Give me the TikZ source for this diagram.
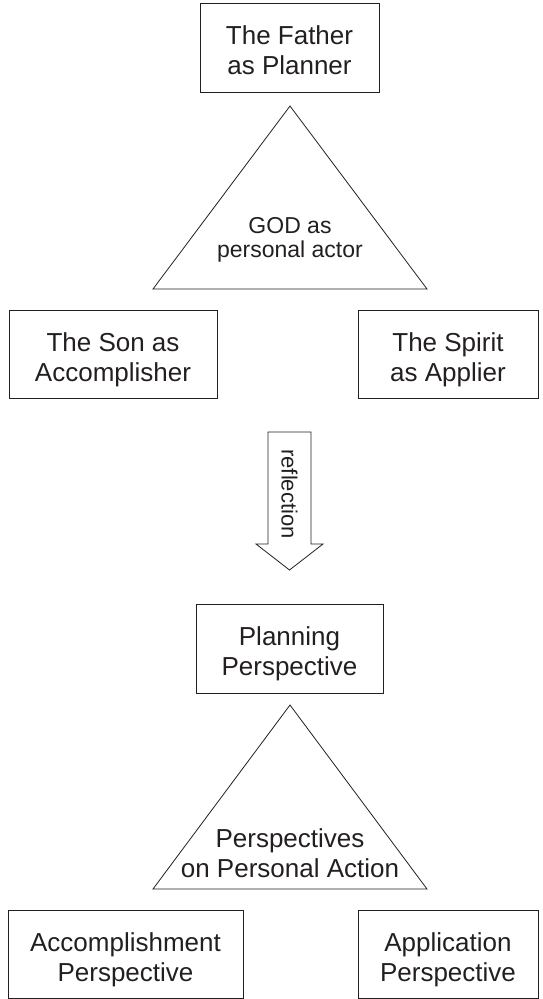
\documentclass[tikz,border=0pt]{standalone}
\usepackage{fontspec}
\setmainfont{Liberation Sans}
\definecolor{ink}{HTML}{231F20}
\begin{document}
\begin{tikzpicture}[x=1pt,y=-1pt,
  line width=0.8pt,
  box/.style={draw=ink, text=ink, line width=0.8pt, inner sep=0pt, align=center,
    text height=54pt, text depth=0pt,
    font=\fontsize{26}{30}\selectfont},
  shapeline/.style={draw=ink, line width=0.8pt, line join=miter},
  tritext/.style={text=ink, inner sep=0pt, align=center},
]
\useasboundingbox (0,0) rectangle (543,999);

% top group
\node[box, minimum width=179pt, minimum height=89pt] (father) at (289.5,47.5) {The Father\\as Planner};
\coordinate (t1a) at (290,106);
\coordinate (t1l) at (153,289);
\coordinate (t1r) at (427,289);
\draw[shapeline] (t1a) -- (t1r) -- (t1l) -- cycle;
\node[tritext, font=\fontsize{23}{24}\selectfont] (god) at (290,240) {GOD as\\personal actor};
\node[box, minimum width=208pt, minimum height=88pt] (son) at (113,354) {The Son as\\Accomplisher};
\node[box, minimum width=180pt, minimum height=88pt] (spirit) at (448,354) {The Spirit\\as Applier};

% reflection arrow
\coordinate (a1) at (268,432);
\coordinate (a2) at (311,432);
\coordinate (a3) at (311,544);
\coordinate (a4) at (323,544);
\coordinate (a5) at (289.5,570);
\coordinate (a6) at (256,544);
\coordinate (a7) at (268,544);
\draw[shapeline] (a1) -- (a2) -- (a3) -- (a4) -- (a5) -- (a6) -- (a7) -- cycle;
\node[tritext, rotate=-90, font=\fontsize{22}{24}\selectfont] (refl) at (289.5,494) {reflection};

% bottom group
\node[box, minimum width=187pt, minimum height=89pt] (plan) at (289.5,648.5) {Planning\\Perspective};
\coordinate (t2a) at (290,705);
\coordinate (t2l) at (153,889);
\coordinate (t2r) at (427,889);
\draw[shapeline] (t2a) -- (t2r) -- (t2l) -- cycle;
\node[tritext, font=\fontsize{26}{30}\selectfont] (persp) at (290,853) {Perspectives\\on Personal Action};
\node[box, minimum width=235pt, minimum height=88pt] (accomp) at (125.5,954) {Accomplishment\\Perspective};
\node[box, minimum width=180pt, minimum height=88pt] (appl) at (448,954) {Application\\Perspective};
\end{tikzpicture}
\end{document}
